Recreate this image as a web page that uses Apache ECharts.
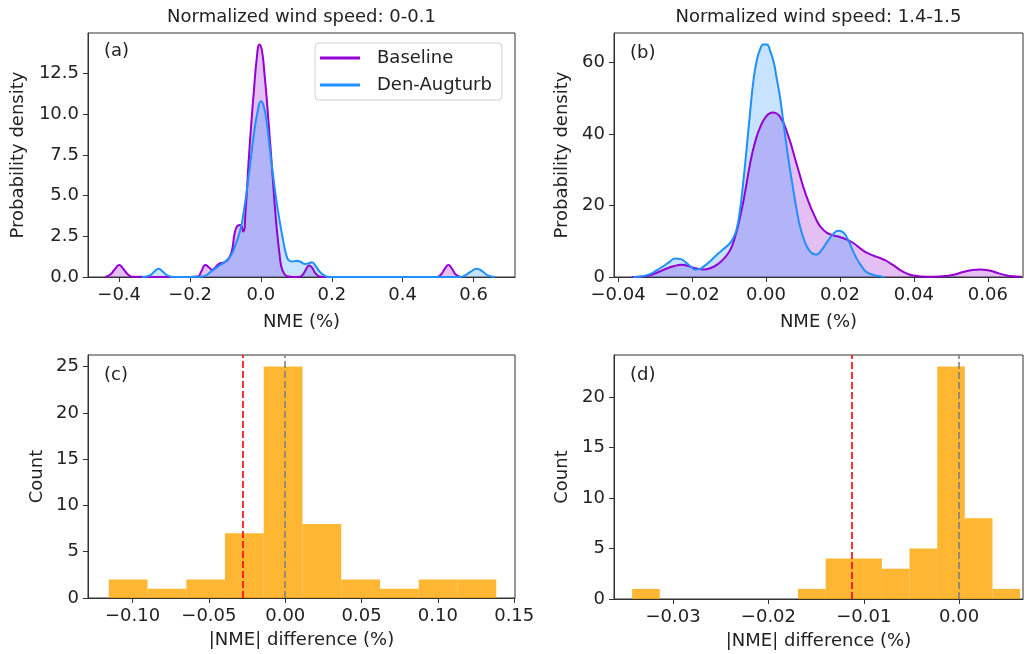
<!DOCTYPE html>
<html><head><meta charset="utf-8">
<script src="https://cdn.jsdelivr.net/npm/echarts@6/dist/echarts.min.js"></script>
<style>html,body{margin:0;padding:0;background:#fff}#c{width:1028px;height:654px}</style>
</head><body><div id="c"></div>
<script>
const FONT = 'DejaVu Sans';
const TXT = '#222';

// ---------- Panel (a): KDE, wind speed 0-0.1 ----------
const kdeA_baseline = [
  [-0.440,0],[-0.425,0.15],[-0.410,0.55],[-0.400,0.74],[-0.390,0.55],[-0.375,0.15],[-0.362,0.01],
  [-0.300,0],[-0.200,0],[-0.178,0.03],[-0.168,0.35],[-0.157,0.74],[-0.147,0.6],[-0.138,0.45],
  [-0.128,0.6],[-0.119,0.8],[-0.105,0.9],[-0.092,1.1],[-0.082,1.6],[-0.074,2.7],[-0.066,3.15],
  [-0.058,3.2],[-0.050,2.8],[-0.043,4.2],[-0.035,7.0],[-0.027,9.5],[-0.020,11.4],[-0.012,13.4],
  [-0.004,14.3],[0.003,13.9],[0.010,12.5],[0.017,10.8],[0.024,8.8],[0.031,6.8],[0.038,4.7],
  [0.045,2.9],[0.052,1.5],[0.058,0.6],[0.066,0.2],[0.074,0.05],[0.090,0],[0.110,0.02],[0.120,0.2],
  [0.128,0.5],[0.136,0.7],[0.145,0.55],[0.155,0.2],[0.168,0.02],[0.200,0],[0.400,0],[0.495,0],
  [0.508,0.15],[0.520,0.55],[0.529,0.74],[0.538,0.55],[0.550,0.15],[0.565,0]
];
const kdeA_denaug = [
  [-0.336,0],[-0.315,0.08],[-0.300,0.35],[-0.289,0.5],[-0.278,0.35],[-0.263,0.08],[-0.245,0],
  [-0.200,0],[-0.170,0.01],[-0.155,0.1],[-0.143,0.3],[-0.130,0.5],[-0.115,0.74],[-0.100,0.95],
  [-0.087,1.25],[-0.075,1.8],[-0.058,2.9],[-0.048,4.1],[-0.040,5.3],[-0.030,7.0],[-0.021,8.6],
  [-0.010,10.1],[0.000,10.8],[0.008,10.5],[0.017,9.4],[0.026,7.7],[0.036,5.95],[0.045,4.5],
  [0.054,3.3],[0.064,2.1],[0.073,1.25],[0.080,1.0],[0.090,0.95],[0.100,1.0],[0.110,0.95],
  [0.125,0.8],[0.135,0.85],[0.144,0.9],[0.155,0.65],[0.167,0.3],[0.180,0.08],[0.195,0],
  [0.400,0],[0.560,0],[0.575,0.08],[0.590,0.3],[0.609,0.5],[0.625,0.35],[0.640,0.1],[0.660,0]
];
const ticksA_x = [-0.4,-0.2,0.0,0.2,0.4,0.6];
const labelsA_x = ['\u22120.4','\u22120.2','0.0','0.2','0.4','0.6'];
const ticksA_y = [0,2.5,5,7.5,10,12.5];
const labelsA_y = ['0.0','2.5','5.0','7.5','10.0','12.5'];

// ---------- Panel (b): KDE, wind speed 1.4-1.5 ----------
const kdeB_baseline = [
  [-0.0363,0],[-0.034,0.1],[-0.0314,0.5],[-0.029,1.4],[-0.027,2.3],[-0.025,3.0],[-0.0228,3.4],
  [-0.021,3.1],[-0.0196,2.6],[-0.018,2.2],[-0.0169,2.1],[-0.015,2.5],[-0.0133,3.4],[-0.0115,5.0],
  [-0.0097,7.5],[-0.0083,11.5],[-0.007,16.8],[-0.0057,23.5],[-0.0043,31.7],[-0.003,37.5],
  [-0.0016,41.8],[0.0002,45.1],[0.0018,46.0],[0.0038,44.8],[0.006,39.5],[0.0083,31.5],
  [0.011,22.4],[0.0137,15.8],[0.015,13.7],[0.0164,12.4],[0.018,11.7],[0.0195,11.3],[0.0215,10.6],
  [0.0236,9.5],[0.0255,8.0],[0.0272,6.8],[0.029,6.0],[0.0308,5.3],[0.0322,4.7],[0.0335,3.9],
  [0.035,2.9],[0.0362,2.0],[0.038,1.0],[0.0398,0.4],[0.042,0.15],[0.045,0.1],[0.0488,0.3],
  [0.051,0.7],[0.0533,1.4],[0.0555,1.9],[0.0578,2.1],[0.060,1.9],[0.0624,1.2],[0.0645,0.6],
  [0.066,0.3],[0.0691,0.1]
];
const kdeB_denaug = [
  [-0.0359,0],[-0.0335,0.2],[-0.0314,0.8],[-0.0295,1.9],[-0.0278,3.0],[-0.026,4.3],[-0.0246,5.2],
  [-0.023,5.0],[-0.0214,3.8],[-0.020,2.6],[-0.0192,2.1],[-0.018,2.2],[-0.0169,2.9],[-0.015,4.5],
  [-0.0133,6.2],[-0.0115,7.8],[-0.0097,9.5],[-0.0088,11.0],[-0.0079,13.5],[-0.007,19.0],
  [-0.0061,27.0],[-0.0052,36.3],[-0.0043,46.0],[-0.0034,54.9],[-0.0025,60.5],[-0.0016,63.6],
  [-0.0007,65.0],[0.0002,65.0],[0.0011,63.3],[0.0021,60.0],[0.0029,55.5],[0.0038,50.2],
  [0.0047,43.3],[0.0056,36.3],[0.0065,30.0],[0.0074,24.3],[0.0083,18.8],[0.0092,14.1],
  [0.0103,10.4],[0.0114,7.9],[0.0125,6.6],[0.0136,6.3],[0.015,7.5],[0.0164,9.6],[0.018,11.8],
  [0.0195,12.9],[0.0207,12.6],[0.0218,11.2],[0.023,8.5],[0.0245,5.2],[0.026,2.8],[0.0272,1.4],
  [0.029,0.6],[0.0313,0.1],[0.032,0]
];
const ticksB_x = [-0.04,-0.02,0.0,0.02,0.04,0.06];
const labelsB_x = ['\u22120.04','\u22120.02','0.00','0.02','0.04','0.06'];
const ticksB_y = [0,20,40,60];
const labelsB_y = ['0','20','40','60'];

// ---------- Panel (c): histogram of |NME| difference, 0-0.1 ----------
const histC_edges = [-0.1156,-0.0902,-0.0648,-0.0395,-0.0141,0.0113,0.0367,0.0621,0.0874,0.1128,0.1382];
const histC_counts = [2,1,2,7,25,8,2,1,2,2];
const histC_meanLine = -0.0278;
const ticksC_x = [-0.10,-0.05,0.0,0.05,0.10,0.15];
const labelsC_x = ['\u22120.10','\u22120.05','0.00','0.05','0.10','0.15'];
const ticksC_y = [0,5,10,15,20,25];
const labelsC_y = ['0','5','10','15','20','25'];

// ---------- Panel (d): histogram of |NME| difference, 1.4-1.5 ----------
const histD_edges = [-0.0343,-0.0314,-0.0285,-0.0256,-0.0227,-0.0198,-0.0169,-0.0140,-0.0110,-0.0081,-0.0052,-0.0023,0.0006,0.0035,0.0064];
const histD_counts = [1,0,0,0,0,0,1,4,4,3,5,23,8,1];
const histD_meanLine = -0.01123;
const ticksD_x = [-0.03,-0.02,-0.01,0.0];
const labelsD_x = ['\u22120.03','\u22120.02','\u22120.01','0.00'];
const ticksD_y = [0,5,10,15,20];
const labelsD_y = ['0','5','10','15','20'];

// ---------- styling helpers ----------
const C_BASE = '#9400D3', C_AUG = '#1E90FF';
function lab(v, ticks, labels){
  let best = 0, bd = Infinity;
  ticks.forEach((t,i)=>{ const d=Math.abs(t-v); if(d<bd){bd=d;best=i;} });
  return labels[best];
}
function axis(dim, gi, min, max, ticks, labels, name, gap){
  return {
    type:'value', gridIndex:gi, min:min, max:max, name:name,
    nameLocation:'middle', nameGap:gap,
    nameTextStyle:{fontSize:18, fontFamily:FONT, color:TXT},
    axisLine:{show:true, onZero:false, lineStyle:{color:'#333', width:1}},
    axisTick:{show:true, inside:false, length:5, customValues:ticks, lineStyle:{color:'#333', width:1}},
    axisLabel:{show:true, customValues:ticks, margin:9, fontSize:18, fontFamily:FONT, color:TXT,
      formatter:(v)=>lab(v, ticks, labels)},
    splitLine:{show:false}
  };
}
function kde(name, data, color, xi, yi){
  return {
    type:'line', name:name, xAxisIndex:xi, yAxisIndex:yi, data:data,
    smooth:0.5, symbol:'none', showSymbol:false,
    lineStyle:{color:color, width:2}, itemStyle:{color:color},
    areaStyle:{color:color, opacity:0.25}, silent:true
  };
}
function hist(edges, counts, meanLine, xi, yi){
  const data = counts.map((c,i)=>[edges[i], edges[i+1], c]);
  return {
    type:'custom', xAxisIndex:xi, yAxisIndex:yi, data:data, silent:true,
    encode:{x:[0,1], y:2},
    renderItem:function(params, api){
      const p0 = api.coord([api.value(0), 0]);
      const p1 = api.coord([api.value(1), api.value(2)]);
      return {type:'rect', shape:{x:p0[0], y:p1[1], width:p1[0]-p0[0], height:p0[1]-p1[1]},
        style:{fill:'rgba(255,165,0,0.8)'}};
    },
    markLine:{
      silent:true, symbol:['none','none'], label:{show:false}, animation:false, precision:6,
      data:[
        {xAxis:meanLine, lineStyle:{color:'rgba(255,0,0,0.8)', type:[7,3], width:2}},
        {xAxis:0, lineStyle:{color:'rgba(128,128,128,0.8)', type:[7,3], width:2}}
      ]
    }
  };
}
const gridStyle = {show:true, borderColor:'#333', borderWidth:1, backgroundColor:'transparent'};

const option = {
  animation:false,
  backgroundColor:'#fff',
  grid:[
    Object.assign({left:88, top:33, width:427, height:244}, gridStyle),
    Object.assign({left:614, top:33, width:409, height:244}, gridStyle),
    Object.assign({left:88, top:355, width:427, height:243}, gridStyle),
    Object.assign({left:614, top:355, width:409, height:244}, gridStyle)
  ],
  xAxis:[
    axis('x',0,-0.488,0.717,ticksA_x,labelsA_x,'NME (%)',36),
    axis('x',1,-0.0411,0.0695,ticksB_x,labelsB_x,'NME (%)',36),
    axis('x',2,-0.1292,0.1505,ticksC_x,labelsC_x,'|NME| difference (%)',33),
    axis('x',3,-0.0362,0.0067,ticksD_x,labelsD_x,'|NME| difference (%)',33)
  ],
  yAxis:[
    axis('y',0,0,15.0,ticksA_y,labelsA_y,'Probability density',61),
    axis('y',1,0,68.2,ticksB_y,labelsB_y,'Probability density',43),
    axis('y',2,0,26.25,ticksC_y,labelsC_y,'Count',42),
    axis('y',3,0,24.15,ticksD_y,labelsD_y,'Count',43)
  ],
  legend:{
    data:['Baseline','Den-Augturb'], orient:'vertical', left:315, top:43,
    padding:[6,10,6,5], itemGap:9, itemWidth:40, itemHeight:3, icon:'rect',
    borderColor:'#d0d0d0', borderWidth:1, borderRadius:4, backgroundColor:'rgba(255,255,255,0.8)',
    selectedMode:false,
    textStyle:{fontSize:18, fontFamily:FONT, color:TXT, padding:[0,0,0,12]}
  },
  graphic:[
    {type:'text', x:301.5, y:17, style:{text:'Normalized wind speed: 0-0.1', align:'center', verticalAlign:'middle', fontSize:18, fontFamily:FONT, fill:TXT}},
    {type:'text', x:818.5, y:17, style:{text:'Normalized wind speed: 1.4-1.5', align:'center', verticalAlign:'middle', fontSize:18, fontFamily:FONT, fill:TXT}},
    {type:'text', x:104, y:51, style:{text:'(a)', align:'left', verticalAlign:'middle', fontSize:18, fontFamily:FONT, fill:TXT}},
    {type:'text', x:630, y:53, style:{text:'(b)', align:'left', verticalAlign:'middle', fontSize:18, fontFamily:FONT, fill:TXT}},
    {type:'text', x:104, y:375, style:{text:'(c)', align:'left', verticalAlign:'middle', fontSize:18, fontFamily:FONT, fill:TXT}},
    {type:'text', x:630, y:375, style:{text:'(d)', align:'left', verticalAlign:'middle', fontSize:18, fontFamily:FONT, fill:TXT}}
  ],
  series:[
    kde('Baseline', kdeA_baseline, C_BASE, 0, 0),
    kde('Den-Augturb', kdeA_denaug, C_AUG, 0, 0),
    kde('Baseline', kdeB_baseline, C_BASE, 1, 1),
    kde('Den-Augturb', kdeB_denaug, C_AUG, 1, 1),
    hist(histC_edges, histC_counts, histC_meanLine, 2, 2),
    hist(histD_edges, histD_counts, histD_meanLine, 3, 3)
  ]
};
const chart = echarts.init(document.getElementById('c'));
chart.setOption(option);
</script></body></html>
